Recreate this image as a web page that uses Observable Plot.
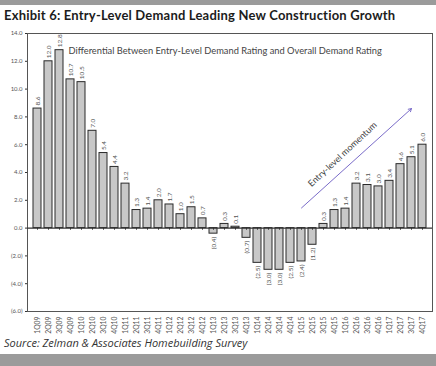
<!DOCTYPE html>
<html><head><meta charset="utf-8">
<script src="https://cdn.jsdelivr.net/npm/d3@7"></script>
<script src="https://cdn.jsdelivr.net/npm/@observablehq/plot@0.6"></script>
<style>
body{margin:0;background:#fff;font-family:Lato,"Open Sans",sans-serif;}
#wrap{position:relative;width:436px;height:366px;overflow:hidden;background:#fff;}
#topbar{position:absolute;left:0;top:0;width:436px;height:5px;background:#9b9b9b;}
#title{position:absolute;left:4px;top:7px;font-size:13px;letter-spacing:0.2px;font-weight:700;color:#1c1c1c;white-space:nowrap;}
#chart{position:absolute;left:0;top:26px;}
#source{position:absolute;left:4px;top:335px;font-family:"Open Sans",sans-serif;font-size:11px;font-style:italic;color:#333;white-space:nowrap;}
#botbar{position:absolute;left:0;top:354px;width:436px;height:12px;background:#9b9b9b;}
</style></head>
<body><div id="wrap">
<div id="topbar"></div>
<div id="title">Exhibit 6: Entry-Level Demand Leading New Construction Growth</div>
<div id="chart"></div>
<div id="source">Source: Zelman &amp; Associates Homebuilding Survey</div>
<div id="botbar"></div>
</div>
<script>
const quarters = ["1Q09","2Q09","3Q09","4Q09","1Q10","2Q10","3Q10","4Q10","1Q11","2Q11","3Q11","4Q11","1Q12","2Q12","3Q12","4Q12","1Q13","2Q13","3Q13","4Q13","1Q14","2Q14","3Q14","4Q14","1Q15","2Q15","3Q15","4Q15","1Q16","2Q16","3Q16","4Q16","1Q17","2Q17","3Q17","4Q17"];
const values = [8.6,12.0,12.8,10.7,10.5,7.0,5.4,4.4,3.2,1.3,1.4,2.0,1.7,1.0,1.5,0.7,-0.4,0.3,0.1,-0.7,-2.5,-3.0,-3.0,-2.5,-2.4,-1.2,0.3,1.3,1.4,3.2,3.1,3.0,3.4,4.6,5.1,6.0];
const yTicks = [14,12,10,8,6,4,2,0,-2,-4,-6];
const noteText = "Differential Between Entry-Level Demand Rating and Overall Demand Rating";
const noteAt = {x: "4Q09", y: 12.75};
const arrowSeg = [{x1: "1Q15", y1: 1.45, x2: "3Q17", y2: 8.6}];
const arrowLabel = {text: "Entry-level momentum", x: "1Q16", y: 5.3};

const data = quarters.map((q, i) => ({q, v: values[i]}));
const fmt = v => v < 0 ? `(${(-v).toFixed(1)})` : v.toFixed(1);

const chart = Plot.plot({
  width: 436, height: 316,
  marginTop: 7, marginBottom: 31, marginLeft: 27, marginRight: 4,
  style: {fontFamily: "Lato, 'Open Sans', sans-serif", background: "transparent", color: "#555"},
  x: {domain: quarters, padding: 0.27, label: null, axis: null},
  y: {domain: [-6, 14], label: null, axis: null},
  marks: [
    Plot.frame({stroke: "#555", strokeWidth: 1}),
    Plot.axisY({ticks: yTicks, tickFormat: fmt, tickSize: 2, tickPadding: 3, fontSize: 6, stroke: "#333", label: null}),
    Plot.axisX({tickRotate: -90, tickSize: 0, tickPadding: 5, fontSize: 6.8, label: null, fill: "#555"}),
    Plot.barY(data, {x: "q", y: "v", fill: "#c8c8c8", stroke: "#2a2a2a", strokeWidth: 1}),
    Plot.ruleY([0], {stroke: "#333", strokeWidth: 1.2}),
    Plot.ruleX(data, {x: "q", y1: 0, y2: -0.15, stroke: "#333", strokeWidth: 1}),
    Plot.text(data.filter(d => d.v >= 0), {x: "q", y: "v", text: d => fmt(d.v), rotate: -90, textAnchor: "start", dy: -3, fontSize: 6.5, fill: "#555"}),
    Plot.text(data.filter(d => d.v < 0), {x: "q", y: "v", text: d => fmt(d.v), rotate: -90, textAnchor: "end", dy: 3, fontSize: 6.5, fill: "#555"}),
    Plot.text([noteText], {x: () => noteAt.x, y: () => noteAt.y, text: d => d, textAnchor: "start", fontSize: 9.3, fill: "#444", dx: -2}),
    Plot.arrow(arrowSeg, {x1: "x1", y1: "y1", x2: "x2", y2: "y2", stroke: "#7a6cc9", strokeWidth: 1, headLength: 5}),
    Plot.text([arrowLabel], {x: "x", y: "y", text: "text", rotate: -43, fontSize: 9, fill: "#444", dx: -3})
  ]
});
document.getElementById("chart").appendChild(chart);
</script>
</body></html>
